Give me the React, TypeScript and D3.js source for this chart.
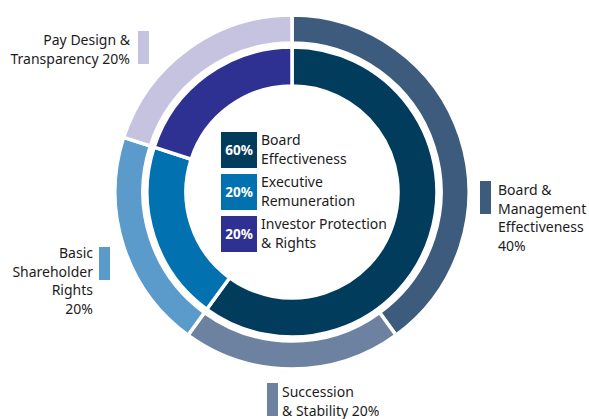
import React from "react";
import * as d3 from "d3";

const outerLabels = ["Board & Management Effectiveness", "Succession & Stability", "Basic Shareholder Rights", "Pay Design & Transparency"];
const outerValues = [40, 20, 20, 20];
const outerColors = ["#3d5b7c", "#6d82a0", "#5b9bcc", "#c6c3e1"];

const innerLabels = ["Board Effectiveness", "Executive Remuneration", "Investor Protection & Rights"];
const innerValues = [60, 20, 20];
const innerColors = ["#023c5d", "#0171af", "#2e3191"];

const innerLegendLines = [["Board", "Effectiveness"], ["Executive", "Remuneration"], ["Investor Protection", "& Rights"]];

const W = 589, H = 419;
const cx = 292, cy = 192;
const FONT = "'Noto Sans', sans-serif";
const TXT = "#1d1b1c";

export default function App() {
  const pie = d3.pie<number>().sort(null).value((d) => d);
  const outerArcs = pie(outerValues);
  const innerArcs = pie(innerValues);
  const outerArc = d3.arc<d3.PieArcDatum<number>>().innerRadius(149).outerRadius(177);
  const innerArc = d3.arc<d3.PieArcDatum<number>>().innerRadius(106).outerRadius(145);

  const pct = (v: number) => `${v}%`;

  const outerLabelBlocks = [
    { box: [480, 181], anchor: "start", tx: 498, ty: 195, lines: ["Board &", "Management", "Effectiveness", pct(outerValues[0])] },
    { box: [267, 383], anchor: "start", tx: 282, ty: 397, lines: ["Succession", "& Stability " + pct(outerValues[1])] },
    { box: [99, 247], anchor: "end", tx: 93, ty: 258, lines: ["Basic", "Shareholder", "Rights", pct(outerValues[2])] },
    { box: [138, 31], anchor: "end", tx: 130, ty: 45, lines: ["Pay Design &", "Transparency " + pct(outerValues[3])] },
  ];

  return (
    <svg width={W} height={H} style={{ position: "absolute", left: 0, top: 0 }} fontFamily={FONT}>
      <rect width={W} height={H} fill="#fff" />
      <g transform={`translate(${cx},${cy})`}>
        {outerArcs.map((a, i) => (
          <path key={"o" + i} d={outerArc(a) || ""} fill={outerColors[i]} stroke="#fff" strokeWidth={3.5} />
        ))}
        {innerArcs.map((a, i) => (
          <path key={"i" + i} d={innerArc(a) || ""} fill={innerColors[i]} stroke="#fff" strokeWidth={3.5} />
        ))}
      </g>
      {innerLabels.map((lab, i) => {
        const y0 = 132 + i * 42;
        return (
          <g key={"leg" + i}>
            <rect x={221} y={y0} width={36} height={36} fill={innerColors[i]} />
            <text x={239} y={y0 + 23} textAnchor="middle" fill="#fff" fontSize={13.5} fontWeight="bold">{pct(innerValues[i])}</text>
            {innerLegendLines[i].map((ln, j) => (
              <text key={j} x={261} y={y0 + 13 + j * 19} fill={TXT} fontSize={14}>{ln}</text>
            ))}
          </g>
        );
      })}
      {outerLabelBlocks.map((b, i) => (
        <g key={"ol" + i}>
          <rect x={b.box[0]} y={b.box[1]} width={11} height={33} fill={outerColors[i]} />
          {b.lines.map((ln, j) => (
            <text key={j} x={b.tx} y={b.ty + j * 18.7} textAnchor={b.anchor as any} fill={TXT} fontSize={14}>{ln}</text>
          ))}
        </g>
      ))}
    </svg>
  );
}
